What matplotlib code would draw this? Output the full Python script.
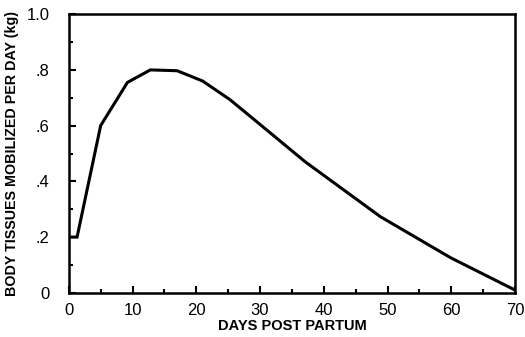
import numpy as np
import matplotlib.pyplot as plt
from matplotlib.ticker import MultipleLocator, FixedFormatter, FixedLocator

days = [0.5, 1.3, 5, 9.2, 12.8, 17, 21, 25.3, 29.7, 37.1, 48.9, 59.9, 70]
tissue_kg = [0.2, 0.2, 0.6, 0.755, 0.8, 0.797, 0.76, 0.693, 0.61, 0.47, 0.273, 0.126, 0.01]

x_ticks = [0, 10, 20, 30, 40, 50, 60, 70]
y_ticks = [0, 0.2, 0.4, 0.6, 0.8, 1.0]
y_tick_labels = ["0", ".2", ".4", ".6", ".8", "1.0"]

plt.rcParams["font.family"] = ["Liberation Sans", "DejaVu Sans"]

fig = plt.figure(figsize=(5.25, 3.37), dpi=100)
ax = fig.add_axes([0.131, 0.131, 0.85, 0.827])

ax.plot(days, tissue_kg, color="black", lw=2.2, solid_joinstyle="miter")

ax.set_xlim(0, 70)
ax.set_ylim(0, 1.0)
ax.xaxis.set_major_locator(FixedLocator(x_ticks))
ax.xaxis.set_minor_locator(MultipleLocator(5))
ax.yaxis.set_major_locator(FixedLocator(y_ticks))
ax.yaxis.set_major_formatter(FixedFormatter(y_tick_labels))
ax.yaxis.set_minor_locator(MultipleLocator(0.1))

ax.tick_params(which="both", direction="in", top=False, right=False,
               width=1.5, labelsize=12, colors="black")
ax.tick_params(which="major", length=5, pad=7)
ax.tick_params(which="minor", length=3)
ax.tick_params(axis="y", pad=14)
for s in ax.spines.values():
    s.set_linewidth(1.8)

ax.set_xlabel("DAYS POST PARTUM", fontsize=10.5, fontweight="bold", labelpad=1)
ax.set_ylabel("BODY TISSUES MOBILIZED PER DAY (kg)", fontsize=10.3,
              fontweight="bold", labelpad=5)

fig.savefig("out.png", dpi=100)
